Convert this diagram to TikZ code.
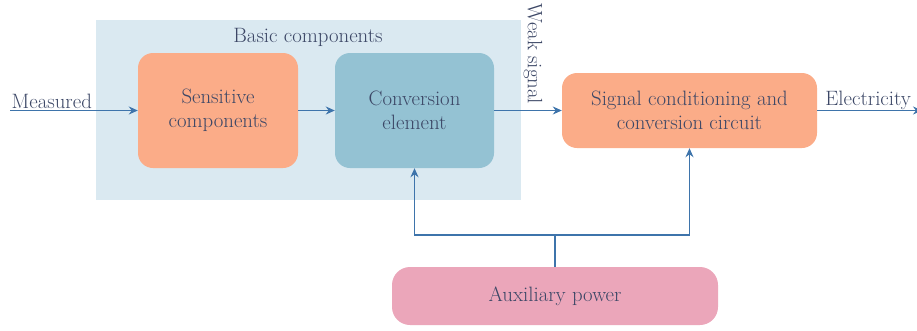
\documentclass[tikz,border=0pt]{standalone}
\usetikzlibrary{arrows.meta}
\definecolor{bgblue}{HTML}{DAE9F1}
\definecolor{salmon}{HTML}{FBAC88}
\definecolor{convblue}{HTML}{94C2D3}
\definecolor{auxpink}{HTML}{EBA6BA}
\definecolor{linecol}{HTML}{3E74AB}
\definecolor{txtcol}{HTML}{3C4766}
\begin{document}
\begin{tikzpicture}[x=1pt,y=-1pt,
	font=\fontsize{20.8}{24}\selectfont, text=txtcol,
	blk/.style={rounded corners=15pt, align=center, inner sep=0pt},
	arr/.style={draw=linecol, line width=1.4pt, -{Stealth[length=9pt,width=8pt]}},
	wire/.style={draw=linecol, line width=1.4pt}]
	\useasboundingbox (0,0) rectangle (917,330);
	\fill [bgblue] (96,20) rectangle (521,200);
	\node (basic) at (308,37) {Basic components};
	\node [blk, fill=salmon, minimum width=160pt, minimum height=115pt] (sens) at (218,110.5) {Sensitive\\components};
	\node [blk, fill=convblue, minimum width=159pt, minimum height=115pt] (conv) at (414.5,110.5) {Conversion\\element};
	\node [blk, fill=salmon, minimum width=255pt, minimum height=75pt] (sig) at (689.5,110.5) {Signal conditioning and\\conversion circuit};
	\node [blk, rounded corners=18pt, fill=auxpink, minimum width=326pt, minimum height=58pt] (aux) at (555,296) {Auxiliary power};
	\coordinate (in) at (10,110.5);
	\coordinate (out) at (922,110.5);
	\coordinate (junc) at (555,235);
	\draw [arr] (in) -- (sens) node[pos=0, anchor=south west, inner sep=1pt] (meas) {Measured};
	\draw [arr] (sens) -- (conv);
	\draw [arr] (conv) -- (sig);
	\node [rotate=-90] (weak) at (533,54) {Weak signal};
	\draw [arr] (sig) -- (out);
	\node [anchor=south west, inner sep=1pt] (elec) at ([xshift=7pt]sig.east) {Electricity};
	\draw [wire] (aux.north) -- (junc);
	\draw [arr] (junc) -| (conv.south);
	\draw [arr] (junc) -| (sig.south);
\end{tikzpicture}
\end{document}
